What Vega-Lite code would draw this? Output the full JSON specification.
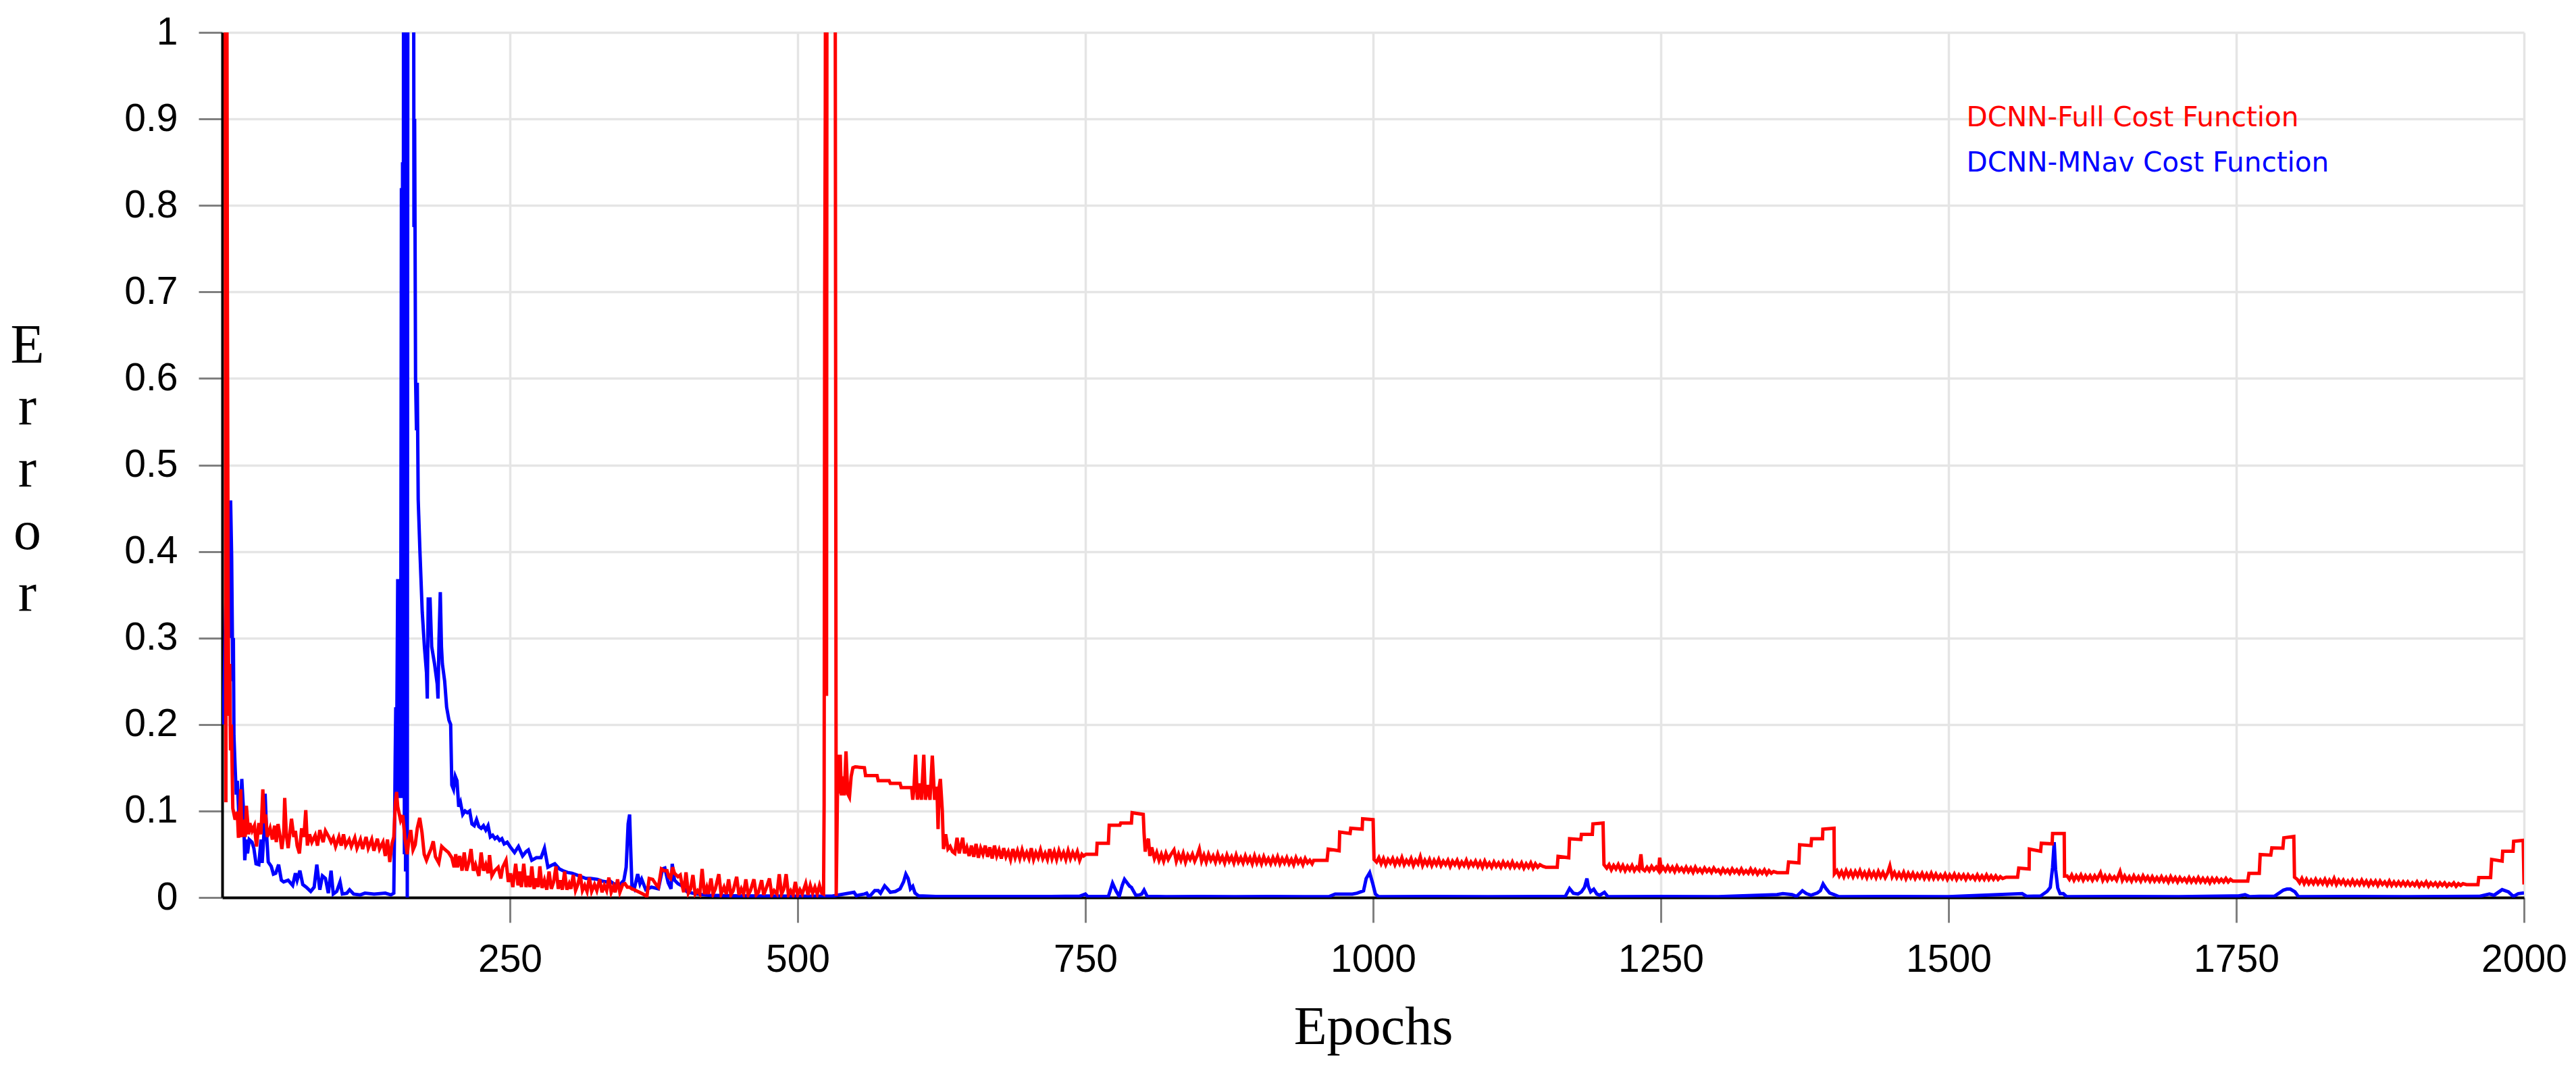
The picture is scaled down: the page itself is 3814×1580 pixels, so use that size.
{
  "$schema": "https://vega.github.io/schema/vega-lite/v6.json",
  "width": 3408,
  "height": 1281,
  "autosize": "none",
  "padding": {"left": 329, "top": 48, "right": 77, "bottom": 251},
  "background": "white",
  "config": {"font": "Liberation Sans", "view": {"stroke": null}},
  "datasets": {
    "mnav": [
      {"epoch": 1, "error": 0.2}, {"epoch": 3, "error": 0.33}, {"epoch": 5, "error": 0.42}, {"epoch": 6.3, "error": 0.3},
      {"epoch": 7.3, "error": 0.459}, {"epoch": 8.2, "error": 0.394}, {"epoch": 9.2, "error": 0.25}, {"epoch": 9.7, "error": 0.3},
      {"epoch": 10.2, "error": 0.187}, {"epoch": 11.2, "error": 0.151}, {"epoch": 12.2, "error": 0.119}, {"epoch": 13.1, "error": 0.135},
      {"epoch": 14.1, "error": 0.106}, {"epoch": 15.1, "error": 0.07}, {"epoch": 17, "error": 0.137}, {"epoch": 18.4, "error": 0.103},
      {"epoch": 19.6, "error": 0.043}, {"epoch": 21, "error": 0.067}, {"epoch": 22, "error": 0.051}, {"epoch": 23.5, "error": 0.067},
      {"epoch": 25.9, "error": 0.064}, {"epoch": 27.5, "error": 0.057}, {"epoch": 29.4, "error": 0.039}, {"epoch": 31.8, "error": 0.038},
      {"epoch": 33.7, "error": 0.067}, {"epoch": 34.7, "error": 0.04}, {"epoch": 36.1, "error": 0.07}, {"epoch": 37.3, "error": 0.12},
      {"epoch": 38.7, "error": 0.07}, {"epoch": 40, "error": 0.041}, {"epoch": 42.6, "error": 0.036}, {"epoch": 44.5, "error": 0.027},
      {"epoch": 46.5, "error": 0.028}, {"epoch": 49, "error": 0.038}, {"epoch": 51.4, "error": 0.02}, {"epoch": 53.4, "error": 0.018},
      {"epoch": 57.3, "error": 0.02}, {"epoch": 61.2, "error": 0.014}, {"epoch": 63.6, "error": 0.028}, {"epoch": 65.1, "error": 0.02},
      {"epoch": 67.5, "error": 0.031}, {"epoch": 70, "error": 0.015}, {"epoch": 73, "error": 0.012}, {"epoch": 76.9, "error": 0.007},
      {"epoch": 79.9, "error": 0.012}, {"epoch": 82.2, "error": 0.038}, {"epoch": 84.8, "error": 0.009}, {"epoch": 87.1, "error": 0.025},
      {"epoch": 89.7, "error": 0.022}, {"epoch": 92.2, "error": 0.005}, {"epoch": 94.6, "error": 0.031}, {"epoch": 96.5, "error": 0.004},
      {"epoch": 99.5, "error": 0.007}, {"epoch": 102.4, "error": 0.018}, {"epoch": 104.4, "error": 0.004}, {"epoch": 108.3, "error": 0.005},
      {"epoch": 110.7, "error": 0.009}, {"epoch": 114.2, "error": 0.004}, {"epoch": 120, "error": 0.003}, {"epoch": 124, "error": 0.005},
      {"epoch": 132, "error": 0.004}, {"epoch": 141.7, "error": 0.005}, {"epoch": 146.6, "error": 0.003}, {"epoch": 149.1, "error": 0.005},
      {"epoch": 149.8, "error": 0.089}, {"epoch": 150.3, "error": 0.161}, {"epoch": 150.8, "error": 0.22}, {"epoch": 151.3, "error": 0.16},
      {"epoch": 151.8, "error": 0.22}, {"epoch": 152.5, "error": 0.368}, {"epoch": 153, "error": 0.12}, {"epoch": 153.5, "error": 0.368},
      {"epoch": 154, "error": 0.115}, {"epoch": 154.5, "error": 0.368}, {"epoch": 155, "error": 0.12}, {"epoch": 155.7, "error": 0.82},
      {"epoch": 156.2, "error": 0.115}, {"epoch": 156.7, "error": 0.85}, {"epoch": 157.2, "error": 0.115}, {"epoch": 157.7, "error": 1.5},
      {"epoch": 158.3, "error": 0.05}, {"epoch": 158.8, "error": 1.5}, {"epoch": 159.3, "error": 0.03}, {"epoch": 160, "error": 1.5},
      {"epoch": 160.8, "error": 0.0}, {"epoch": 161.5, "error": 1.5}, {"epoch": 166, "error": 1.5}, {"epoch": 166.6, "error": 0.775},
      {"epoch": 167.2, "error": 0.9}, {"epoch": 168, "error": 0.6}, {"epoch": 168.8, "error": 0.54}, {"epoch": 169.5, "error": 0.595},
      {"epoch": 170.3, "error": 0.46}, {"epoch": 171.8, "error": 0.4}, {"epoch": 173.8, "error": 0.33}, {"epoch": 175.7, "error": 0.29},
      {"epoch": 177.5, "error": 0.26}, {"epoch": 178.2, "error": 0.23}, {"epoch": 179, "error": 0.345}, {"epoch": 180.6, "error": 0.345},
      {"epoch": 182, "error": 0.29}, {"epoch": 184.5, "error": 0.27}, {"epoch": 186.8, "error": 0.247}, {"epoch": 187.5, "error": 0.23},
      {"epoch": 188.4, "error": 0.3}, {"epoch": 189.5, "error": 0.353}, {"epoch": 190.5, "error": 0.29}, {"epoch": 191.3, "error": 0.27},
      {"epoch": 193.3, "error": 0.25}, {"epoch": 195, "error": 0.22}, {"epoch": 197, "error": 0.205}, {"epoch": 198.5, "error": 0.2},
      {"epoch": 199.5, "error": 0.13}, {"epoch": 201, "error": 0.125}, {"epoch": 202.5, "error": 0.14}, {"epoch": 204, "error": 0.135},
      {"epoch": 205.5, "error": 0.105}, {"epoch": 207, "error": 0.11}, {"epoch": 209, "error": 0.096}, {"epoch": 211, "error": 0.1},
      {"epoch": 213, "error": 0.098}, {"epoch": 215, "error": 0.1}, {"epoch": 217, "error": 0.085}, {"epoch": 219, "error": 0.083},
      {"epoch": 221, "error": 0.09}, {"epoch": 223, "error": 0.082}, {"epoch": 225, "error": 0.08}, {"epoch": 227, "error": 0.083},
      {"epoch": 229, "error": 0.078}, {"epoch": 231, "error": 0.083}, {"epoch": 233, "error": 0.07}, {"epoch": 235, "error": 0.072},
      {"epoch": 237, "error": 0.068}, {"epoch": 239, "error": 0.07}, {"epoch": 241, "error": 0.066}, {"epoch": 243, "error": 0.068},
      {"epoch": 245, "error": 0.062}, {"epoch": 247.6, "error": 0.064}, {"epoch": 250, "error": 0.059}, {"epoch": 254, "error": 0.052},
      {"epoch": 257.4, "error": 0.059}, {"epoch": 261, "error": 0.048}, {"epoch": 264, "error": 0.053}, {"epoch": 266, "error": 0.055},
      {"epoch": 269, "error": 0.043}, {"epoch": 273, "error": 0.046}, {"epoch": 277, "error": 0.046}, {"epoch": 280, "error": 0.057},
      {"epoch": 283, "error": 0.035}, {"epoch": 286, "error": 0.037}, {"epoch": 289, "error": 0.039}, {"epoch": 293, "error": 0.033},
      {"epoch": 296, "error": 0.031}, {"epoch": 300, "error": 0.029}, {"epoch": 304, "error": 0.028}, {"epoch": 308, "error": 0.026},
      {"epoch": 312, "error": 0.024}, {"epoch": 316, "error": 0.022}, {"epoch": 320, "error": 0.022}, {"epoch": 326, "error": 0.021},
      {"epoch": 330, "error": 0.019}, {"epoch": 334, "error": 0.018}, {"epoch": 337, "error": 0.019}, {"epoch": 340, "error": 0.016},
      {"epoch": 345, "error": 0.014}, {"epoch": 349, "error": 0.02}, {"epoch": 351, "error": 0.035}, {"epoch": 352.7, "error": 0.085},
      {"epoch": 354, "error": 0.096}, {"epoch": 355, "error": 0.053}, {"epoch": 356, "error": 0.014}, {"epoch": 358, "error": 0.01},
      {"epoch": 361, "error": 0.027}, {"epoch": 363, "error": 0.016}, {"epoch": 364.5, "error": 0.021}, {"epoch": 368, "error": 0.009},
      {"epoch": 373, "error": 0.012}, {"epoch": 379, "error": 0.01}, {"epoch": 382.6, "error": 0.033}, {"epoch": 384.6, "error": 0.034},
      {"epoch": 387.5, "error": 0.017}, {"epoch": 390, "error": 0.01}, {"epoch": 391, "error": 0.039}, {"epoch": 393, "error": 0.02},
      {"epoch": 396, "error": 0.016}, {"epoch": 400, "error": 0.013}, {"epoch": 404, "error": 0.0065}, {"epoch": 412, "error": 0.004},
      {"epoch": 424, "error": 0.0026}, {"epoch": 443, "error": 0.002}, {"epoch": 470, "error": 0.0018}, {"epoch": 500, "error": 0.0015},
      {"epoch": 530, "error": 0.0015}, {"epoch": 549, "error": 0.006}, {"epoch": 551, "error": 0.002}, {"epoch": 554, "error": 0.003},
      {"epoch": 558, "error": 0.004}, {"epoch": 560, "error": 0.005}, {"epoch": 562, "error": 0.0005}, {"epoch": 565, "error": 0.005},
      {"epoch": 567, "error": 0.008}, {"epoch": 570, "error": 0.008}, {"epoch": 572, "error": 0.005}, {"epoch": 575.6, "error": 0.0135},
      {"epoch": 578, "error": 0.01}, {"epoch": 580.5, "error": 0.006}, {"epoch": 585, "error": 0.007}, {"epoch": 589, "error": 0.01},
      {"epoch": 592, "error": 0.018}, {"epoch": 594, "error": 0.027}, {"epoch": 596, "error": 0.022}, {"epoch": 598, "error": 0.01},
      {"epoch": 600, "error": 0.013}, {"epoch": 602, "error": 0.005}, {"epoch": 605, "error": 0.002}, {"epoch": 620, "error": 0.0012},
      {"epoch": 650, "error": 0.0012}, {"epoch": 680, "error": 0.0012}, {"epoch": 720, "error": 0.0012}, {"epoch": 745, "error": 0.0015},
      {"epoch": 750, "error": 0.004}, {"epoch": 752, "error": 0.0012}, {"epoch": 770, "error": 0.0012}, {"epoch": 773.6, "error": 0.0165},
      {"epoch": 776.5, "error": 0.008}, {"epoch": 779.4, "error": 0.0013}, {"epoch": 782, "error": 0.014}, {"epoch": 784, "error": 0.021},
      {"epoch": 787, "error": 0.0157}, {"epoch": 788.5, "error": 0.013}, {"epoch": 790, "error": 0.0117}, {"epoch": 793.8, "error": 0.0026},
      {"epoch": 797, "error": 0.003}, {"epoch": 799, "error": 0.004}, {"epoch": 801, "error": 0.0086}, {"epoch": 803.7, "error": 0.0013},
      {"epoch": 820, "error": 0.001}, {"epoch": 850, "error": 0.0012}, {"epoch": 880, "error": 0.001}, {"epoch": 910, "error": 0.0012},
      {"epoch": 940, "error": 0.001}, {"epoch": 961.5, "error": 0.001}, {"epoch": 967, "error": 0.004}, {"epoch": 975, "error": 0.004},
      {"epoch": 982, "error": 0.004}, {"epoch": 986, "error": 0.005}, {"epoch": 991.7, "error": 0.0078}, {"epoch": 994, "error": 0.022},
      {"epoch": 997, "error": 0.0287}, {"epoch": 999.5, "error": 0.017}, {"epoch": 1002, "error": 0.004}, {"epoch": 1004.7, "error": 0.001},
      {"epoch": 1050, "error": 0.0012}, {"epoch": 1100, "error": 0.001}, {"epoch": 1167, "error": 0.0013}, {"epoch": 1170.7, "error": 0.0104},
      {"epoch": 1174, "error": 0.005}, {"epoch": 1178, "error": 0.004}, {"epoch": 1181, "error": 0.0065}, {"epoch": 1183.7, "error": 0.0117},
      {"epoch": 1185.8, "error": 0.022}, {"epoch": 1187, "error": 0.013}, {"epoch": 1189, "error": 0.0065}, {"epoch": 1191.7, "error": 0.0096},
      {"epoch": 1194.4, "error": 0.004}, {"epoch": 1197, "error": 0.0026}, {"epoch": 1201, "error": 0.006}, {"epoch": 1204, "error": 0.001},
      {"epoch": 1250, "error": 0.0012}, {"epoch": 1300, "error": 0.001}, {"epoch": 1351, "error": 0.0033}, {"epoch": 1356, "error": 0.0044},
      {"epoch": 1364, "error": 0.0033}, {"epoch": 1368, "error": 0.0013}, {"epoch": 1373, "error": 0.0078}, {"epoch": 1376.5, "error": 0.0044},
      {"epoch": 1380.5, "error": 0.0026}, {"epoch": 1386, "error": 0.0052}, {"epoch": 1388.6, "error": 0.0078}, {"epoch": 1391, "error": 0.0157},
      {"epoch": 1393.5, "error": 0.0104}, {"epoch": 1396.7, "error": 0.0052}, {"epoch": 1400.7, "error": 0.0033}, {"epoch": 1404.8, "error": 0.001},
      {"epoch": 1450, "error": 0.0012}, {"epoch": 1500, "error": 0.001}, {"epoch": 1564, "error": 0.0044}, {"epoch": 1568, "error": 0.0013},
      {"epoch": 1580, "error": 0.0018}, {"epoch": 1585.6, "error": 0.007}, {"epoch": 1588.4, "error": 0.0117}, {"epoch": 1590.4, "error": 0.035},
      {"epoch": 1591.8, "error": 0.064}, {"epoch": 1593, "error": 0.0326}, {"epoch": 1594.9, "error": 0.011}, {"epoch": 1596.9, "error": 0.0044},
      {"epoch": 1599.7, "error": 0.0044}, {"epoch": 1602.5, "error": 0.001}, {"epoch": 1650, "error": 0.0012}, {"epoch": 1700, "error": 0.001},
      {"epoch": 1752, "error": 0.0018}, {"epoch": 1757.6, "error": 0.0033}, {"epoch": 1761.8, "error": 0.001}, {"epoch": 1770, "error": 0.0013},
      {"epoch": 1783, "error": 0.0013}, {"epoch": 1791, "error": 0.0086}, {"epoch": 1794, "error": 0.0097}, {"epoch": 1797, "error": 0.0097},
      {"epoch": 1801, "error": 0.0065}, {"epoch": 1804, "error": 0.001}, {"epoch": 1850, "error": 0.0012}, {"epoch": 1900, "error": 0.001},
      {"epoch": 1961, "error": 0.0013}, {"epoch": 1970, "error": 0.004}, {"epoch": 1974, "error": 0.0026}, {"epoch": 1981, "error": 0.0091},
      {"epoch": 1986.5, "error": 0.0065}, {"epoch": 1990.7, "error": 0.0013}, {"epoch": 1995, "error": 0.0044}, {"epoch": 2000, "error": 0.0052}
    ],
    "full": [
      {"epoch": 0.5, "error": 1.4}, {"epoch": 2.5, "error": 1.2}, {"epoch": 3.2, "error": 0.11}, {"epoch": 3.8, "error": 1.3},
      {"epoch": 4.5, "error": 0.7}, {"epoch": 5.2, "error": 0.33}, {"epoch": 5.8, "error": 0.21}, {"epoch": 6.5, "error": 0.27},
      {"epoch": 7.2, "error": 0.17}, {"epoch": 8, "error": 0.2}, {"epoch": 9.2, "error": 0.103}, {"epoch": 11.2, "error": 0.09},
      {"epoch": 13.1, "error": 0.099}, {"epoch": 14.1, "error": 0.069}, {"epoch": 16.1, "error": 0.125}, {"epoch": 17, "error": 0.07},
      {"epoch": 19, "error": 0.09}, {"epoch": 20, "error": 0.07}, {"epoch": 21, "error": 0.106}, {"epoch": 23, "error": 0.073},
      {"epoch": 24, "error": 0.086}, {"epoch": 26, "error": 0.077}, {"epoch": 28, "error": 0.083}, {"epoch": 29.8, "error": 0.059},
      {"epoch": 31.8, "error": 0.086}, {"epoch": 33.7, "error": 0.073}, {"epoch": 35.3, "error": 0.125}, {"epoch": 36.7, "error": 0.086},
      {"epoch": 37.7, "error": 0.096}, {"epoch": 39.2, "error": 0.07}, {"epoch": 41.6, "error": 0.08}, {"epoch": 43.6, "error": 0.067},
      {"epoch": 45.5, "error": 0.083}, {"epoch": 47, "error": 0.064}, {"epoch": 48.5, "error": 0.085}, {"epoch": 50.4, "error": 0.07},
      {"epoch": 51.8, "error": 0.056}, {"epoch": 53.4, "error": 0.073}, {"epoch": 54.3, "error": 0.115}, {"epoch": 55.7, "error": 0.073},
      {"epoch": 57.3, "error": 0.057}, {"epoch": 60.2, "error": 0.091}, {"epoch": 62.2, "error": 0.07}, {"epoch": 63.6, "error": 0.077},
      {"epoch": 65.1, "error": 0.06}, {"epoch": 67.1, "error": 0.051}, {"epoch": 69, "error": 0.08}, {"epoch": 71, "error": 0.07},
      {"epoch": 72.6, "error": 0.101}, {"epoch": 74, "error": 0.06}, {"epoch": 75.9, "error": 0.073}, {"epoch": 77.9, "error": 0.064},
      {"epoch": 80.8, "error": 0.072}, {"epoch": 82.8, "error": 0.06}, {"epoch": 84.8, "error": 0.078}, {"epoch": 87.7, "error": 0.064},
      {"epoch": 89.7, "error": 0.077}, {"epoch": 92.6, "error": 0.07}, {"epoch": 94.6, "error": 0.064}, {"epoch": 96.5, "error": 0.069},
      {"epoch": 98.5, "error": 0.059}, {"epoch": 101.4, "error": 0.07}, {"epoch": 103.4, "error": 0.06}, {"epoch": 105.4, "error": 0.073},
      {"epoch": 107.3, "error": 0.06}, {"epoch": 110.3, "error": 0.067}, {"epoch": 112.2, "error": 0.059}, {"epoch": 115.2, "error": 0.069},
      {"epoch": 117.1, "error": 0.057}, {"epoch": 120.1, "error": 0.067}, {"epoch": 122, "error": 0.056}, {"epoch": 125, "error": 0.07},
      {"epoch": 126.9, "error": 0.057}, {"epoch": 129.9, "error": 0.067}, {"epoch": 131.8, "error": 0.054}, {"epoch": 134.8, "error": 0.068},
      {"epoch": 136.7, "error": 0.056}, {"epoch": 139.7, "error": 0.064}, {"epoch": 141.7, "error": 0.048}, {"epoch": 143.6, "error": 0.067},
      {"epoch": 145.6, "error": 0.041}, {"epoch": 147.5, "error": 0.062}, {"epoch": 149.1, "error": 0.07}, {"epoch": 150.5, "error": 0.11},
      {"epoch": 151.5, "error": 0.122}, {"epoch": 152.5, "error": 0.105}, {"epoch": 155, "error": 0.089}, {"epoch": 156.9, "error": 0.095},
      {"epoch": 158.8, "error": 0.068}, {"epoch": 160.8, "error": 0.05}, {"epoch": 162, "error": 0.065}, {"epoch": 163.8, "error": 0.078},
      {"epoch": 165.8, "error": 0.055}, {"epoch": 167.7, "error": 0.061}, {"epoch": 169.5, "error": 0.08}, {"epoch": 171.6, "error": 0.092},
      {"epoch": 173.6, "error": 0.075}, {"epoch": 175.5, "error": 0.05}, {"epoch": 177.5, "error": 0.043}, {"epoch": 179.5, "error": 0.05},
      {"epoch": 181.4, "error": 0.056}, {"epoch": 183.4, "error": 0.065}, {"epoch": 185.3, "error": 0.047}, {"epoch": 188.2, "error": 0.04},
      {"epoch": 190.7, "error": 0.059}, {"epoch": 193, "error": 0.056}, {"epoch": 196.6, "error": 0.052}, {"epoch": 199.5, "error": 0.046},
      {"epoch": 201.5, "error": 0.035}, {"epoch": 202.9, "error": 0.05}, {"epoch": 204.4, "error": 0.035}, {"epoch": 206.4, "error": 0.048},
      {"epoch": 208.4, "error": 0.031}, {"epoch": 210.3, "error": 0.052}, {"epoch": 212.3, "error": 0.031}, {"epoch": 214.3, "error": 0.041},
      {"epoch": 216.2, "error": 0.056}, {"epoch": 218.2, "error": 0.031}, {"epoch": 220.1, "error": 0.038}, {"epoch": 223, "error": 0.025},
      {"epoch": 225, "error": 0.052}, {"epoch": 227, "error": 0.031}, {"epoch": 229, "error": 0.038}, {"epoch": 231, "error": 0.028},
      {"epoch": 232.3, "error": 0.049}, {"epoch": 234.3, "error": 0.025}, {"epoch": 236.8, "error": 0.031}, {"epoch": 239.8, "error": 0.035},
      {"epoch": 242.1, "error": 0.022}, {"epoch": 243.7, "error": 0.035}, {"epoch": 246.6, "error": 0.043}, {"epoch": 248.6, "error": 0.018},
      {"epoch": 250.5, "error": 0.028}, {"epoch": 252.5, "error": 0.012}, {"epoch": 255, "error": 0.039}, {"epoch": 257, "error": 0.014},
      {"epoch": 258.5, "error": 0.03}, {"epoch": 260, "error": 0.012}, {"epoch": 262, "error": 0.039}, {"epoch": 264, "error": 0.012},
      {"epoch": 266, "error": 0.025}, {"epoch": 267.5, "error": 0.012}, {"epoch": 269, "error": 0.036}, {"epoch": 271, "error": 0.01},
      {"epoch": 273, "error": 0.022}, {"epoch": 274.5, "error": 0.012}, {"epoch": 276, "error": 0.036}, {"epoch": 278, "error": 0.011},
      {"epoch": 280, "error": 0.02}, {"epoch": 282, "error": 0.009}, {"epoch": 284, "error": 0.03}, {"epoch": 286, "error": 0.01},
      {"epoch": 288, "error": 0.018}, {"epoch": 290, "error": 0.036}, {"epoch": 292, "error": 0.01}, {"epoch": 294, "error": 0.02},
      {"epoch": 295.5, "error": 0.009}, {"epoch": 297.5, "error": 0.03}, {"epoch": 299.5, "error": 0.009}, {"epoch": 301.5, "error": 0.016},
      {"epoch": 303, "error": 0.01}, {"epoch": 305, "error": 0.026}, {"epoch": 307, "error": 0.008}, {"epoch": 309, "error": 0.015},
      {"epoch": 311, "error": 0.027}, {"epoch": 313, "error": 0.008}, {"epoch": 315, "error": 0.014}, {"epoch": 317, "error": 0.007},
      {"epoch": 319, "error": 0.023}, {"epoch": 321, "error": 0.007}, {"epoch": 323.5, "error": 0.015}, {"epoch": 325.5, "error": 0.008},
      {"epoch": 328, "error": 0.021}, {"epoch": 330, "error": 0.006}, {"epoch": 332, "error": 0.014}, {"epoch": 334, "error": 0.008},
      {"epoch": 336, "error": 0.023}, {"epoch": 338, "error": 0.006}, {"epoch": 340, "error": 0.013}, {"epoch": 341.5, "error": 0.006},
      {"epoch": 343.5, "error": 0.021}, {"epoch": 345.5, "error": 0.006}, {"epoch": 348, "error": 0.015}, {"epoch": 350, "error": 0.016},
      {"epoch": 352, "error": 0.012}, {"epoch": 354, "error": 0.012}, {"epoch": 356, "error": 0.01}, {"epoch": 358, "error": 0.009},
      {"epoch": 361, "error": 0.007}, {"epoch": 364, "error": 0.005}, {"epoch": 367, "error": 0.003}, {"epoch": 369, "error": 0.001},
      {"epoch": 370, "error": 0.012}, {"epoch": 371, "error": 0.022}, {"epoch": 374, "error": 0.021}, {"epoch": 377, "error": 0.015},
      {"epoch": 379, "error": 0.012}, {"epoch": 381.6, "error": 0.033}, {"epoch": 384, "error": 0.031}, {"epoch": 386.5, "error": 0.031},
      {"epoch": 388, "error": 0.024}, {"epoch": 389.5, "error": 0.022}, {"epoch": 391.4, "error": 0.035}, {"epoch": 393, "error": 0.028},
      {"epoch": 396, "error": 0.024}, {"epoch": 398, "error": 0.026}, {"epoch": 400, "error": 0.012}, {"epoch": 401, "error": 0.006},
      {"epoch": 403, "error": 0.029}, {"epoch": 405, "error": 0.005}, {"epoch": 407, "error": 0.01}, {"epoch": 409, "error": 0.026},
      {"epoch": 411, "error": 0.004}, {"epoch": 413, "error": 0.008}, {"epoch": 415, "error": 0.004}, {"epoch": 417, "error": 0.033},
      {"epoch": 419, "error": 0.004}, {"epoch": 421, "error": 0.012}, {"epoch": 422.5, "error": 0.004}, {"epoch": 424.7, "error": 0.022},
      {"epoch": 426.5, "error": 0.004}, {"epoch": 428.5, "error": 0.01}, {"epoch": 431.5, "error": 0.027}, {"epoch": 433.5, "error": 0.004},
      {"epoch": 436, "error": 0.012}, {"epoch": 438, "error": 0.004}, {"epoch": 440, "error": 0.021}, {"epoch": 442, "error": 0.003},
      {"epoch": 444, "error": 0.008}, {"epoch": 447, "error": 0.024}, {"epoch": 449, "error": 0.003}, {"epoch": 451, "error": 0.01},
      {"epoch": 453, "error": 0.004}, {"epoch": 455, "error": 0.021}, {"epoch": 457, "error": 0.003}, {"epoch": 459, "error": 0.008},
      {"epoch": 462, "error": 0.021}, {"epoch": 464, "error": 0.003}, {"epoch": 466, "error": 0.006}, {"epoch": 468.7, "error": 0.02},
      {"epoch": 470.5, "error": 0.003}, {"epoch": 472.5, "error": 0.01}, {"epoch": 475.5, "error": 0.022}, {"epoch": 477.5, "error": 0.003},
      {"epoch": 479.5, "error": 0.008}, {"epoch": 482, "error": 0.004}, {"epoch": 484, "error": 0.027}, {"epoch": 486, "error": 0.004},
      {"epoch": 488, "error": 0.01}, {"epoch": 490, "error": 0.027}, {"epoch": 492, "error": 0.003}, {"epoch": 494, "error": 0.008},
      {"epoch": 496, "error": 0.003}, {"epoch": 498, "error": 0.018}, {"epoch": 500, "error": 0.003}, {"epoch": 502, "error": 0.009},
      {"epoch": 504, "error": 0.004}, {"epoch": 507, "error": 0.016}, {"epoch": 509, "error": 0.003}, {"epoch": 511, "error": 0.014},
      {"epoch": 513, "error": 0.005}, {"epoch": 515, "error": 0.012}, {"epoch": 517, "error": 0.004}, {"epoch": 519, "error": 0.014},
      {"epoch": 521, "error": 0.005}, {"epoch": 522.5, "error": 0.004}, {"epoch": 523, "error": 0.108}, {"epoch": 523.5, "error": 0.7},
      {"epoch": 524, "error": 0.91}, {"epoch": 524.6, "error": 1.5}, {"epoch": 525.1, "error": 0.233}, {"epoch": 525.6, "error": 1.5},
      {"epoch": 532.3, "error": 1.5}, {"epoch": 533.5, "error": 0.002}, {"epoch": 535, "error": 0.165}, {"epoch": 536, "error": 0.12},
      {"epoch": 537, "error": 0.165}, {"epoch": 538, "error": 0.118}, {"epoch": 539.5, "error": 0.14}, {"epoch": 540.5, "error": 0.118},
      {"epoch": 542, "error": 0.169}, {"epoch": 543.5, "error": 0.12}, {"epoch": 545, "error": 0.116}, {"epoch": 546.5, "error": 0.14},
      {"epoch": 548, "error": 0.15}, {"epoch": 550, "error": 0.151}, {"epoch": 558, "error": 0.15}, {"epoch": 559, "error": 0.141},
      {"epoch": 569, "error": 0.141}, {"epoch": 570, "error": 0.135}, {"epoch": 579.5, "error": 0.135}, {"epoch": 580.5, "error": 0.132},
      {"epoch": 589, "error": 0.132}, {"epoch": 590, "error": 0.127}, {"epoch": 599, "error": 0.127}, {"epoch": 600, "error": 0.113},
      {"epoch": 601, "error": 0.125}, {"epoch": 602.5, "error": 0.165}, {"epoch": 604, "error": 0.113}, {"epoch": 606, "error": 0.132},
      {"epoch": 607.5, "error": 0.113}, {"epoch": 609.6, "error": 0.165}, {"epoch": 611, "error": 0.113}, {"epoch": 613, "error": 0.13},
      {"epoch": 615, "error": 0.113}, {"epoch": 617, "error": 0.164}, {"epoch": 619, "error": 0.113}, {"epoch": 621, "error": 0.128},
      {"epoch": 622, "error": 0.079}, {"epoch": 623, "error": 0.128}, {"epoch": 624, "error": 0.137}, {"epoch": 625.7, "error": 0.1},
      {"epoch": 626.7, "error": 0.056}, {"epoch": 628.6, "error": 0.073}, {"epoch": 630.6, "error": 0.056}, {"epoch": 632.5, "error": 0.059},
      {"epoch": 634.5, "error": 0.053}, {"epoch": 636.5, "error": 0.051}, {"epoch": 638.5, "error": 0.069}, {"epoch": 640.4, "error": 0.051},
      {"epoch": 643.4, "error": 0.069}, {"epoch": 645, "error": 0.051}, {"epoch": 647, "error": 0.058}, {"epoch": 649, "error": 0.048},
      {"epoch": 651, "error": 0.06}, {"epoch": 653, "error": 0.047}, {"epoch": 655, "error": 0.062}, {"epoch": 657, "error": 0.046},
      {"epoch": 659, "error": 0.057}, {"epoch": 661, "error": 0.05}, {"epoch": 663, "error": 0.06}, {"epoch": 665, "error": 0.047},
      {"epoch": 667, "error": 0.058}, {"epoch": 669, "error": 0.045}, {"epoch": 671, "error": 0.06}, {"epoch": 673, "error": 0.048},
      {"epoch": 675, "error": 0.055}, {"epoch": 677, "error": 0.045}, {"epoch": 679, "error": 0.057}, {"epoch": 681, "error": 0.047},
      {"epoch": 683, "error": 0.053}, {"epoch": 685, "error": 0.044}, {"epoch": 687, "error": 0.056}, {"epoch": 689, "error": 0.046},
      {"epoch": 691, "error": 0.054}, {"epoch": 693, "error": 0.045}, {"epoch": 695, "error": 0.055}, {"epoch": 697, "error": 0.046},
      {"epoch": 699, "error": 0.052}, {"epoch": 701, "error": 0.045}, {"epoch": 703, "error": 0.057}, {"epoch": 705, "error": 0.044},
      {"epoch": 707, "error": 0.052}, {"epoch": 709, "error": 0.046}, {"epoch": 711, "error": 0.055}, {"epoch": 713, "error": 0.045},
      {"epoch": 715, "error": 0.051}, {"epoch": 717, "error": 0.044}, {"epoch": 719, "error": 0.056}, {"epoch": 721, "error": 0.045},
      {"epoch": 723, "error": 0.053}, {"epoch": 725, "error": 0.044}, {"epoch": 727, "error": 0.054}, {"epoch": 729, "error": 0.046},
      {"epoch": 731, "error": 0.052}, {"epoch": 733, "error": 0.044}, {"epoch": 735, "error": 0.054}, {"epoch": 737, "error": 0.045},
      {"epoch": 739, "error": 0.052}, {"epoch": 741, "error": 0.046}, {"epoch": 743, "error": 0.053}, {"epoch": 745, "error": 0.043},
      {"epoch": 747, "error": 0.05}, {"epoch": 748.5, "error": 0.048}, {"epoch": 750.5, "error": 0.05}, {"epoch": 759.7, "error": 0.05},
      {"epoch": 760.2, "error": 0.0627}, {"epoch": 770, "error": 0.0627}, {"epoch": 770.7, "error": 0.0836}, {"epoch": 780, "error": 0.0836},
      {"epoch": 780.7, "error": 0.086}, {"epoch": 790, "error": 0.086}, {"epoch": 790.6, "error": 0.098}, {"epoch": 800.3, "error": 0.096},
      {"epoch": 801, "error": 0.074}, {"epoch": 802, "error": 0.053}, {"epoch": 803, "error": 0.062}, {"epoch": 804.8, "error": 0.068},
      {"epoch": 806, "error": 0.048}, {"epoch": 807.7, "error": 0.058}, {"epoch": 810, "error": 0.045}, {"epoch": 812, "error": 0.052},
      {"epoch": 814, "error": 0.043}, {"epoch": 816, "error": 0.05}, {"epoch": 818, "error": 0.042}, {"epoch": 820, "error": 0.051},
      {"epoch": 822, "error": 0.044}, {"epoch": 824, "error": 0.049}, {"epoch": 827, "error": 0.055}, {"epoch": 829, "error": 0.042},
      {"epoch": 831, "error": 0.05}, {"epoch": 833, "error": 0.043}, {"epoch": 835, "error": 0.051}, {"epoch": 837, "error": 0.041},
      {"epoch": 839, "error": 0.049}, {"epoch": 841, "error": 0.044}, {"epoch": 843, "error": 0.05}, {"epoch": 845, "error": 0.042},
      {"epoch": 847, "error": 0.048}, {"epoch": 849, "error": 0.056}, {"epoch": 851, "error": 0.042}, {"epoch": 853, "error": 0.049},
      {"epoch": 855, "error": 0.041}, {"epoch": 857, "error": 0.05}, {"epoch": 859, "error": 0.043}, {"epoch": 861, "error": 0.048},
      {"epoch": 863, "error": 0.041}, {"epoch": 865, "error": 0.05}, {"epoch": 867, "error": 0.042}, {"epoch": 869, "error": 0.047},
      {"epoch": 871, "error": 0.04}, {"epoch": 873, "error": 0.049}, {"epoch": 875, "error": 0.042}, {"epoch": 877, "error": 0.047},
      {"epoch": 879, "error": 0.04}, {"epoch": 881, "error": 0.049}, {"epoch": 883, "error": 0.041}, {"epoch": 885, "error": 0.046},
      {"epoch": 887, "error": 0.04}, {"epoch": 889, "error": 0.048}, {"epoch": 891, "error": 0.041}, {"epoch": 893, "error": 0.046},
      {"epoch": 895, "error": 0.039}, {"epoch": 897, "error": 0.048}, {"epoch": 899, "error": 0.04}, {"epoch": 901, "error": 0.046},
      {"epoch": 903, "error": 0.039}, {"epoch": 905, "error": 0.047}, {"epoch": 907, "error": 0.04}, {"epoch": 909, "error": 0.045},
      {"epoch": 911, "error": 0.039}, {"epoch": 913, "error": 0.046}, {"epoch": 915, "error": 0.04}, {"epoch": 917, "error": 0.047},
      {"epoch": 919, "error": 0.039}, {"epoch": 921, "error": 0.045}, {"epoch": 923, "error": 0.04}, {"epoch": 925, "error": 0.046},
      {"epoch": 927, "error": 0.039}, {"epoch": 929, "error": 0.044}, {"epoch": 931, "error": 0.038}, {"epoch": 933, "error": 0.046},
      {"epoch": 935, "error": 0.04}, {"epoch": 937, "error": 0.044}, {"epoch": 939, "error": 0.038}, {"epoch": 941, "error": 0.045},
      {"epoch": 943, "error": 0.04}, {"epoch": 945, "error": 0.043}, {"epoch": 947, "error": 0.039}, {"epoch": 948.4, "error": 0.043},
      {"epoch": 960, "error": 0.043}, {"epoch": 961, "error": 0.056}, {"epoch": 970.5, "error": 0.054}, {"epoch": 971, "error": 0.0757},
      {"epoch": 980, "error": 0.074}, {"epoch": 980.6, "error": 0.08}, {"epoch": 990.5, "error": 0.079}, {"epoch": 990.9, "error": 0.091},
      {"epoch": 1000, "error": 0.09}, {"epoch": 1000.8, "error": 0.044}, {"epoch": 1003, "error": 0.041}, {"epoch": 1005, "error": 0.046},
      {"epoch": 1007, "error": 0.039}, {"epoch": 1009, "error": 0.045}, {"epoch": 1011, "error": 0.038}, {"epoch": 1013, "error": 0.044},
      {"epoch": 1015, "error": 0.04}, {"epoch": 1017, "error": 0.045}, {"epoch": 1019, "error": 0.038}, {"epoch": 1021, "error": 0.044},
      {"epoch": 1023, "error": 0.039}, {"epoch": 1025, "error": 0.046}, {"epoch": 1027, "error": 0.038}, {"epoch": 1029, "error": 0.043},
      {"epoch": 1031, "error": 0.039}, {"epoch": 1033, "error": 0.045}, {"epoch": 1035, "error": 0.037}, {"epoch": 1037, "error": 0.043},
      {"epoch": 1039, "error": 0.039}, {"epoch": 1041, "error": 0.047}, {"epoch": 1043, "error": 0.037}, {"epoch": 1045, "error": 0.043},
      {"epoch": 1047, "error": 0.038}, {"epoch": 1049, "error": 0.044}, {"epoch": 1051, "error": 0.037}, {"epoch": 1053, "error": 0.043},
      {"epoch": 1055, "error": 0.038}, {"epoch": 1057, "error": 0.044}, {"epoch": 1059, "error": 0.037}, {"epoch": 1061, "error": 0.042},
      {"epoch": 1063, "error": 0.038}, {"epoch": 1065, "error": 0.043}, {"epoch": 1067, "error": 0.036}, {"epoch": 1069, "error": 0.042},
      {"epoch": 1071, "error": 0.038}, {"epoch": 1073, "error": 0.043}, {"epoch": 1075, "error": 0.036}, {"epoch": 1077, "error": 0.041},
      {"epoch": 1079, "error": 0.037}, {"epoch": 1081, "error": 0.043}, {"epoch": 1083, "error": 0.036}, {"epoch": 1085, "error": 0.041},
      {"epoch": 1087, "error": 0.037}, {"epoch": 1089, "error": 0.042}, {"epoch": 1091, "error": 0.036}, {"epoch": 1093, "error": 0.041},
      {"epoch": 1095, "error": 0.035}, {"epoch": 1097, "error": 0.042}, {"epoch": 1099, "error": 0.036}, {"epoch": 1101, "error": 0.04},
      {"epoch": 1103, "error": 0.035}, {"epoch": 1105, "error": 0.041}, {"epoch": 1107, "error": 0.036}, {"epoch": 1109, "error": 0.04},
      {"epoch": 1111, "error": 0.035}, {"epoch": 1113, "error": 0.041}, {"epoch": 1115, "error": 0.036}, {"epoch": 1117, "error": 0.04},
      {"epoch": 1119, "error": 0.035}, {"epoch": 1121, "error": 0.041}, {"epoch": 1123, "error": 0.035}, {"epoch": 1125, "error": 0.039},
      {"epoch": 1127, "error": 0.035}, {"epoch": 1129, "error": 0.04}, {"epoch": 1131, "error": 0.034}, {"epoch": 1133, "error": 0.039},
      {"epoch": 1135, "error": 0.035}, {"epoch": 1137, "error": 0.04}, {"epoch": 1139, "error": 0.034}, {"epoch": 1141, "error": 0.039},
      {"epoch": 1143, "error": 0.035}, {"epoch": 1145, "error": 0.038}, {"epoch": 1147.6, "error": 0.036}, {"epoch": 1150, "error": 0.035},
      {"epoch": 1160, "error": 0.035}, {"epoch": 1160.7, "error": 0.0475}, {"epoch": 1170, "error": 0.046}, {"epoch": 1170.7, "error": 0.068},
      {"epoch": 1180.5, "error": 0.067}, {"epoch": 1181, "error": 0.073}, {"epoch": 1190.5, "error": 0.073}, {"epoch": 1191, "error": 0.085},
      {"epoch": 1199.8, "error": 0.086}, {"epoch": 1200.6, "error": 0.038}, {"epoch": 1203, "error": 0.034}, {"epoch": 1205, "error": 0.038},
      {"epoch": 1207, "error": 0.032}, {"epoch": 1209, "error": 0.037}, {"epoch": 1211, "error": 0.033}, {"epoch": 1213, "error": 0.038},
      {"epoch": 1215, "error": 0.032}, {"epoch": 1217, "error": 0.037}, {"epoch": 1219, "error": 0.031}, {"epoch": 1221, "error": 0.036},
      {"epoch": 1223, "error": 0.032}, {"epoch": 1225, "error": 0.037}, {"epoch": 1227, "error": 0.031}, {"epoch": 1229, "error": 0.035},
      {"epoch": 1231, "error": 0.032}, {"epoch": 1232.7, "error": 0.05}, {"epoch": 1234, "error": 0.033}, {"epoch": 1236, "error": 0.031},
      {"epoch": 1238, "error": 0.035}, {"epoch": 1240, "error": 0.031}, {"epoch": 1242, "error": 0.036}, {"epoch": 1244, "error": 0.032},
      {"epoch": 1246, "error": 0.035}, {"epoch": 1248, "error": 0.031}, {"epoch": 1249, "error": 0.046}, {"epoch": 1250.5, "error": 0.032},
      {"epoch": 1252, "error": 0.035}, {"epoch": 1254, "error": 0.031}, {"epoch": 1256, "error": 0.036}, {"epoch": 1258, "error": 0.031},
      {"epoch": 1260, "error": 0.035}, {"epoch": 1262, "error": 0.03}, {"epoch": 1264, "error": 0.036}, {"epoch": 1266, "error": 0.031},
      {"epoch": 1268, "error": 0.034}, {"epoch": 1270, "error": 0.03}, {"epoch": 1272, "error": 0.035}, {"epoch": 1274, "error": 0.03},
      {"epoch": 1276, "error": 0.034}, {"epoch": 1278, "error": 0.029}, {"epoch": 1280, "error": 0.035}, {"epoch": 1282, "error": 0.03},
      {"epoch": 1284, "error": 0.033}, {"epoch": 1286, "error": 0.029}, {"epoch": 1288, "error": 0.034}, {"epoch": 1290, "error": 0.03},
      {"epoch": 1292, "error": 0.033}, {"epoch": 1294, "error": 0.029}, {"epoch": 1296, "error": 0.034}, {"epoch": 1298, "error": 0.03},
      {"epoch": 1300, "error": 0.032}, {"epoch": 1302, "error": 0.028}, {"epoch": 1304, "error": 0.033}, {"epoch": 1306, "error": 0.029},
      {"epoch": 1308, "error": 0.032}, {"epoch": 1310, "error": 0.028}, {"epoch": 1312, "error": 0.033}, {"epoch": 1314, "error": 0.029},
      {"epoch": 1316, "error": 0.032}, {"epoch": 1318, "error": 0.028}, {"epoch": 1320, "error": 0.033}, {"epoch": 1322, "error": 0.028},
      {"epoch": 1324, "error": 0.031}, {"epoch": 1326, "error": 0.028}, {"epoch": 1328, "error": 0.033}, {"epoch": 1330, "error": 0.028},
      {"epoch": 1332, "error": 0.032}, {"epoch": 1334, "error": 0.027}, {"epoch": 1336, "error": 0.031}, {"epoch": 1338, "error": 0.028},
      {"epoch": 1340, "error": 0.032}, {"epoch": 1342, "error": 0.027}, {"epoch": 1344, "error": 0.031}, {"epoch": 1346, "error": 0.028},
      {"epoch": 1348, "error": 0.03}, {"epoch": 1351, "error": 0.0287}, {"epoch": 1360, "error": 0.0287}, {"epoch": 1361, "error": 0.041},
      {"epoch": 1370, "error": 0.04}, {"epoch": 1370.6, "error": 0.061}, {"epoch": 1380.5, "error": 0.06}, {"epoch": 1381, "error": 0.068},
      {"epoch": 1390.5, "error": 0.068}, {"epoch": 1390.8, "error": 0.079}, {"epoch": 1400.5, "error": 0.08}, {"epoch": 1400.8, "error": 0.0274},
      {"epoch": 1403, "error": 0.031}, {"epoch": 1405, "error": 0.025}, {"epoch": 1407, "error": 0.03}, {"epoch": 1409, "error": 0.024},
      {"epoch": 1411, "error": 0.031}, {"epoch": 1413, "error": 0.025}, {"epoch": 1415, "error": 0.03}, {"epoch": 1417, "error": 0.024},
      {"epoch": 1419, "error": 0.03}, {"epoch": 1421, "error": 0.025}, {"epoch": 1423, "error": 0.031}, {"epoch": 1425, "error": 0.024},
      {"epoch": 1427, "error": 0.029}, {"epoch": 1429, "error": 0.023}, {"epoch": 1431, "error": 0.03}, {"epoch": 1433, "error": 0.024},
      {"epoch": 1435, "error": 0.029}, {"epoch": 1437, "error": 0.023}, {"epoch": 1439, "error": 0.03}, {"epoch": 1441, "error": 0.024},
      {"epoch": 1443, "error": 0.029}, {"epoch": 1445, "error": 0.023}, {"epoch": 1447, "error": 0.028}, {"epoch": 1449, "error": 0.0365},
      {"epoch": 1451, "error": 0.024}, {"epoch": 1453, "error": 0.029}, {"epoch": 1455, "error": 0.023}, {"epoch": 1457, "error": 0.028},
      {"epoch": 1459, "error": 0.023}, {"epoch": 1461, "error": 0.029}, {"epoch": 1463, "error": 0.022}, {"epoch": 1465, "error": 0.028},
      {"epoch": 1467, "error": 0.023}, {"epoch": 1469, "error": 0.028}, {"epoch": 1471, "error": 0.022}, {"epoch": 1473, "error": 0.027},
      {"epoch": 1475, "error": 0.023}, {"epoch": 1477, "error": 0.028}, {"epoch": 1479, "error": 0.022}, {"epoch": 1481, "error": 0.027},
      {"epoch": 1483, "error": 0.022}, {"epoch": 1485, "error": 0.028}, {"epoch": 1487, "error": 0.022}, {"epoch": 1489, "error": 0.027},
      {"epoch": 1491, "error": 0.022}, {"epoch": 1493, "error": 0.026}, {"epoch": 1495, "error": 0.022}, {"epoch": 1497, "error": 0.027},
      {"epoch": 1499, "error": 0.021}, {"epoch": 1501, "error": 0.026}, {"epoch": 1503, "error": 0.022}, {"epoch": 1505, "error": 0.027},
      {"epoch": 1507, "error": 0.021}, {"epoch": 1509, "error": 0.026}, {"epoch": 1511, "error": 0.022}, {"epoch": 1513, "error": 0.026},
      {"epoch": 1515, "error": 0.021}, {"epoch": 1517, "error": 0.026}, {"epoch": 1519, "error": 0.022}, {"epoch": 1521, "error": 0.025},
      {"epoch": 1523, "error": 0.021}, {"epoch": 1525, "error": 0.026}, {"epoch": 1527, "error": 0.021}, {"epoch": 1529, "error": 0.025},
      {"epoch": 1531, "error": 0.021}, {"epoch": 1533, "error": 0.026}, {"epoch": 1535, "error": 0.021}, {"epoch": 1537, "error": 0.025},
      {"epoch": 1539, "error": 0.021}, {"epoch": 1541, "error": 0.025}, {"epoch": 1543, "error": 0.021}, {"epoch": 1545, "error": 0.024},
      {"epoch": 1547, "error": 0.022}, {"epoch": 1550, "error": 0.0235}, {"epoch": 1560, "error": 0.0235}, {"epoch": 1561, "error": 0.034},
      {"epoch": 1570, "error": 0.033}, {"epoch": 1570.2, "error": 0.056}, {"epoch": 1580, "error": 0.0535}, {"epoch": 1580.6, "error": 0.0627},
      {"epoch": 1590, "error": 0.062}, {"epoch": 1590.4, "error": 0.074}, {"epoch": 1600.5, "error": 0.074}, {"epoch": 1600.8, "error": 0.0248},
      {"epoch": 1603, "error": 0.025}, {"epoch": 1605, "error": 0.021}, {"epoch": 1607, "error": 0.026}, {"epoch": 1609, "error": 0.02},
      {"epoch": 1611, "error": 0.025}, {"epoch": 1613, "error": 0.021}, {"epoch": 1615, "error": 0.026}, {"epoch": 1617, "error": 0.02},
      {"epoch": 1619, "error": 0.025}, {"epoch": 1621, "error": 0.021}, {"epoch": 1623, "error": 0.025}, {"epoch": 1625, "error": 0.02},
      {"epoch": 1627, "error": 0.025}, {"epoch": 1629, "error": 0.021}, {"epoch": 1632, "error": 0.0287}, {"epoch": 1634, "error": 0.02},
      {"epoch": 1636, "error": 0.025}, {"epoch": 1638, "error": 0.02}, {"epoch": 1640, "error": 0.025}, {"epoch": 1642, "error": 0.021},
      {"epoch": 1644, "error": 0.024}, {"epoch": 1646, "error": 0.02}, {"epoch": 1649, "error": 0.03}, {"epoch": 1651, "error": 0.02},
      {"epoch": 1653, "error": 0.025}, {"epoch": 1655, "error": 0.02}, {"epoch": 1657, "error": 0.024}, {"epoch": 1659, "error": 0.019},
      {"epoch": 1661, "error": 0.025}, {"epoch": 1663, "error": 0.02}, {"epoch": 1665, "error": 0.024}, {"epoch": 1667, "error": 0.019},
      {"epoch": 1669, "error": 0.025}, {"epoch": 1671, "error": 0.02}, {"epoch": 1673, "error": 0.024}, {"epoch": 1675, "error": 0.019},
      {"epoch": 1677, "error": 0.024}, {"epoch": 1679, "error": 0.019}, {"epoch": 1681, "error": 0.023}, {"epoch": 1683, "error": 0.019},
      {"epoch": 1685, "error": 0.024}, {"epoch": 1687, "error": 0.019}, {"epoch": 1689, "error": 0.023}, {"epoch": 1691, "error": 0.018},
      {"epoch": 1693, "error": 0.024}, {"epoch": 1695, "error": 0.019}, {"epoch": 1697, "error": 0.023}, {"epoch": 1699, "error": 0.018},
      {"epoch": 1701, "error": 0.023}, {"epoch": 1703, "error": 0.019}, {"epoch": 1705, "error": 0.022}, {"epoch": 1707, "error": 0.018},
      {"epoch": 1709, "error": 0.023}, {"epoch": 1711, "error": 0.018}, {"epoch": 1713, "error": 0.022}, {"epoch": 1715, "error": 0.018},
      {"epoch": 1717, "error": 0.023}, {"epoch": 1719, "error": 0.018}, {"epoch": 1721, "error": 0.022}, {"epoch": 1723, "error": 0.018},
      {"epoch": 1725, "error": 0.022}, {"epoch": 1727, "error": 0.017}, {"epoch": 1729, "error": 0.022}, {"epoch": 1731, "error": 0.018},
      {"epoch": 1733, "error": 0.022}, {"epoch": 1735, "error": 0.018}, {"epoch": 1737, "error": 0.021}, {"epoch": 1739, "error": 0.018},
      {"epoch": 1741, "error": 0.022}, {"epoch": 1743, "error": 0.018}, {"epoch": 1745, "error": 0.021}, {"epoch": 1747, "error": 0.019},
      {"epoch": 1750, "error": 0.019}, {"epoch": 1760, "error": 0.019}, {"epoch": 1761, "error": 0.028}, {"epoch": 1770, "error": 0.028},
      {"epoch": 1770.8, "error": 0.0496}, {"epoch": 1780, "error": 0.049}, {"epoch": 1780.9, "error": 0.0574}, {"epoch": 1790.5, "error": 0.057},
      {"epoch": 1791.3, "error": 0.069}, {"epoch": 1800, "error": 0.0705}, {"epoch": 1800.6, "error": 0.0235}, {"epoch": 1803, "error": 0.021},
      {"epoch": 1805, "error": 0.017}, {"epoch": 1807, "error": 0.022}, {"epoch": 1809, "error": 0.016}, {"epoch": 1811, "error": 0.021},
      {"epoch": 1813, "error": 0.016}, {"epoch": 1815, "error": 0.02}, {"epoch": 1817, "error": 0.016}, {"epoch": 1819, "error": 0.021},
      {"epoch": 1821, "error": 0.016}, {"epoch": 1823, "error": 0.02}, {"epoch": 1825, "error": 0.016}, {"epoch": 1827, "error": 0.021},
      {"epoch": 1829, "error": 0.015}, {"epoch": 1831, "error": 0.02}, {"epoch": 1833, "error": 0.016}, {"epoch": 1835, "error": 0.022},
      {"epoch": 1837, "error": 0.015}, {"epoch": 1839, "error": 0.02}, {"epoch": 1841, "error": 0.016}, {"epoch": 1843, "error": 0.02},
      {"epoch": 1845, "error": 0.015}, {"epoch": 1847, "error": 0.019}, {"epoch": 1849, "error": 0.015}, {"epoch": 1851, "error": 0.02},
      {"epoch": 1853, "error": 0.015}, {"epoch": 1855, "error": 0.019}, {"epoch": 1857, "error": 0.015}, {"epoch": 1859, "error": 0.02},
      {"epoch": 1861, "error": 0.015}, {"epoch": 1863, "error": 0.019}, {"epoch": 1865, "error": 0.014}, {"epoch": 1867, "error": 0.019},
      {"epoch": 1869, "error": 0.015}, {"epoch": 1871, "error": 0.019}, {"epoch": 1873, "error": 0.014}, {"epoch": 1875, "error": 0.019},
      {"epoch": 1877, "error": 0.015}, {"epoch": 1879, "error": 0.018}, {"epoch": 1881, "error": 0.014}, {"epoch": 1883, "error": 0.019},
      {"epoch": 1885, "error": 0.014}, {"epoch": 1887, "error": 0.018}, {"epoch": 1889, "error": 0.014}, {"epoch": 1891, "error": 0.018},
      {"epoch": 1893, "error": 0.014}, {"epoch": 1895, "error": 0.018}, {"epoch": 1897, "error": 0.014}, {"epoch": 1899, "error": 0.018},
      {"epoch": 1901, "error": 0.014}, {"epoch": 1903, "error": 0.017}, {"epoch": 1905, "error": 0.014}, {"epoch": 1907, "error": 0.018},
      {"epoch": 1909, "error": 0.013}, {"epoch": 1911, "error": 0.017}, {"epoch": 1913, "error": 0.014}, {"epoch": 1915, "error": 0.018},
      {"epoch": 1917, "error": 0.013}, {"epoch": 1919, "error": 0.017}, {"epoch": 1921, "error": 0.014}, {"epoch": 1923, "error": 0.017},
      {"epoch": 1925, "error": 0.013}, {"epoch": 1927, "error": 0.017}, {"epoch": 1929, "error": 0.014}, {"epoch": 1931, "error": 0.017},
      {"epoch": 1933, "error": 0.013}, {"epoch": 1935, "error": 0.016}, {"epoch": 1937, "error": 0.014}, {"epoch": 1939, "error": 0.017},
      {"epoch": 1941, "error": 0.013}, {"epoch": 1943, "error": 0.016}, {"epoch": 1945, "error": 0.014}, {"epoch": 1947, "error": 0.016},
      {"epoch": 1950, "error": 0.0149}, {"epoch": 1960, "error": 0.0149}, {"epoch": 1960.7, "error": 0.023}, {"epoch": 1971, "error": 0.023},
      {"epoch": 1971.9, "error": 0.044}, {"epoch": 1981, "error": 0.042}, {"epoch": 1981.5, "error": 0.0535}, {"epoch": 1990.5, "error": 0.0535},
      {"epoch": 1991, "error": 0.065}, {"epoch": 1999.3, "error": 0.066}, {"epoch": 2000, "error": 0.015}
    ]
  },
  "layer": [
    {
      "data": {"name": "mnav"},
      "mark": {"type": "line", "strokeWidth": 5, "clip": true},
      "encoding": {
        "x": {
          "field": "epoch",
          "type": "quantitative",
          "scale": {"domain": [0, 2000], "nice": false, "zero": false},
          "axis": {
            "values": [250, 500, 750, 1000, 1250, 1500, 1750, 2000],
            "format": "d",
            "grid": true,
            "gridColor": "#e5e5e5",
            "gridWidth": 3.5,
            "domainColor": "black",
            "domainWidth": 4,
            "tickColor": "#808080",
            "tickWidth": 3,
            "tickSize": 37,
            "labelPadding": 27,
            "labelFont": "Liberation Sans",
            "labelFontSize": 57,
            "labelColor": "black",
            "labelFlush": false,
            "labelOverlap": false,
            "title": "Epochs",
            "titleFont": "Liberation Serif",
            "titleFontSize": 80,
            "titleFontWeight": "normal",
            "titleColor": "black",
            "titleY": 216,
            "titleBaseline": "alphabetic"
          }
        },
        "y": {
          "field": "error",
          "type": "quantitative",
          "scale": {"domain": [0, 1], "nice": false},
          "axis": {
            "values": [0, 0.1, 0.2, 0.3, 0.4, 0.5, 0.6, 0.7, 0.8, 0.9, 1],
            "format": "~g",
            "grid": true,
            "gridColor": "#e5e5e5",
            "gridWidth": 3.5,
            "domainColor": "black",
            "domainWidth": 4,
            "tickColor": "#808080",
            "tickWidth": 3,
            "tickSize": 35,
            "labelPadding": 31,
            "labelFont": "Liberation Sans",
            "labelFontSize": 57,
            "labelColor": "black",
            "labelFlush": false,
            "labelOverlap": false,
            "title": ["E", "r", "r", "o", "r"],
            "titleFont": "Liberation Serif",
            "titleFontSize": 82,
            "titleFontWeight": "normal",
            "titleColor": "black",
            "titleAngle": 0,
            "titleAlign": "center",
            "titleBaseline": "middle",
            "titleLineHeight": 92,
            "titleX": -289,
            "titleY": 463
          }
        },
        "color": {
          "datum": "DCNN-MNav Cost Function",
          "type": "nominal",
          "scale": {
            "domain": ["DCNN-Full Cost Function", "DCNN-MNav Cost Function"],
            "range": ["#ff0000", "#0000ff"]
          },
          "legend": {
            "orient": "none",
            "legendX": 2542,
            "legendY": 107,
            "title": null,
            "labelFont": "DejaVu Sans",
            "labelFontSize": 40.5,
            "labelLimit": 0,
            "labelOffset": 0,
            "symbolSize": 0,
            "symbolOpacity": 0,
            "symbolStrokeWidth": 0,
            "rowPadding": 26,
            "padding": 0,
            "encode": {"labels": {"update": {"fill": {"scale": "color", "field": "value"}}}}
          }
        }
      }
    },
    {
      "data": {"name": "full"},
      "mark": {"type": "line", "strokeWidth": 5, "clip": true},
      "encoding": {
        "x": {"field": "epoch", "type": "quantitative"},
        "y": {"field": "error", "type": "quantitative"},
        "color": {"datum": "DCNN-Full Cost Function", "type": "nominal"}
      }
    }
  ]
}
